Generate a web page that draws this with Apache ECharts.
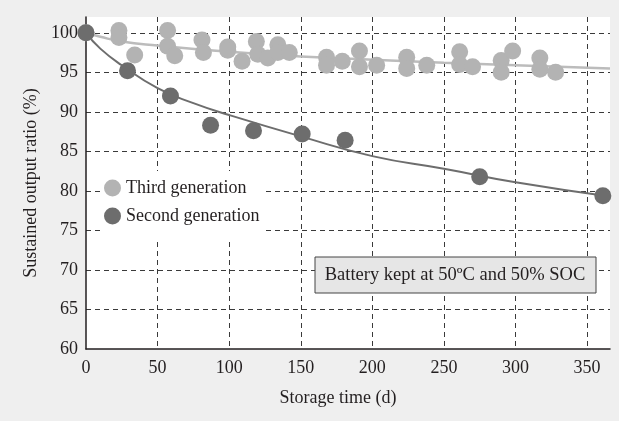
<!DOCTYPE html>
<html>
<head>
<meta charset="utf-8">
<script src="https://cdn.jsdelivr.net/npm/echarts@6/dist/echarts.min.js"></script>
<style>
  html, body { margin: 0; padding: 0; background: #efefef; }
  #chart { width: 619px; height: 421px; }
</style>
</head>
<body>
<div id="chart"></div>
<script>
// measured points (storage days, output %)
var thirdGen = [
  [0, 100], [23, 100.3], [23, 99.4], [34, 97.2],
  [57, 100.3], [57, 98.3], [62, 97.1],
  [81, 99.1], [82, 97.5], [99, 98.2], [99, 97.8], [109, 96.4],
  [119, 98.9], [120, 97.3], [127, 96.8], [134, 98.5], [134, 97.5], [142, 97.5],
  [168, 96.9], [168, 95.9], [179, 96.4], [191, 97.7], [191, 95.7], [203, 95.9],
  [224, 96.9], [224, 95.5], [238, 95.9], [261, 97.6], [261, 96.0], [270, 95.7],
  [290, 96.5], [290, 95.0], [298, 97.7], [317, 96.8], [317, 95.4], [328, 95.0]
]
var secondGen = [
  [0, 100], [29, 95.2], [59, 92.0], [87, 88.3], [117, 87.6],
  [151, 87.2], [181, 86.4], [275, 81.8], [361, 79.4]
]
// trend curves
var thirdFit = [
  [0, 100], [10, 99.5], [25, 98.9], [50, 98.4], [100, 97.6], [150, 97.0],
  [200, 96.6], [250, 96.2], [300, 95.9], [366, 95.5]
]
var secondFit = [
  [0, 100], [10, 98.0], [25, 95.9], [50, 93.0], [75, 91.1], [100, 89.6],
  [150, 86.9], [200, 84.4], [250, 82.8], [300, 81.1], [366, 79.3]
]
var legendNames = ['Third generation', 'Second generation']
var note = 'Battery kept at 50ºC and 50% SOC'

var font = "'Liberation Serif', 'Times New Roman', serif"
var ink = '#231f20'
var light = '#b3b3b3'
var dark = '#6d6d6d'

var chart = echarts.init(document.getElementById('chart'))
chart.setOption({
  backgroundColor: '#efefef',
  animation: false,
  textStyle: { fontFamily: font },
  grid: {
    left: 86, right: 9, top: 17, bottom: 72,
    show: true, backgroundColor: '#fff', borderWidth: 0
  },
  legend: {
    data: legendNames,
    orient: 'vertical',
    left: 100, top: 171,
    padding: [8, 6, 17, 4],
    backgroundColor: '#fff',
    icon: 'circle',
    itemWidth: 17, itemHeight: 17,
    itemGap: 10,
    textStyle: { fontFamily: font, fontSize: 18, color: ink }
  },
  xAxis: {
    type: 'value',
    min: 0, max: 366, interval: 50,
    name: 'Storage time (d)',
    nameLocation: 'middle',
    nameGap: 40,
    nameTextStyle: { fontFamily: font, fontSize: 18, color: ink, padding: [0, 20, 0, 0] },
    axisLine: { lineStyle: { color: ink, width: 1.5 } },
    axisTick: { show: false },
    axisLabel: { fontFamily: font, fontSize: 18, color: ink, margin: 10, showMaxLabel: false },
    splitLine: {
      show: true, showMinLine: false, showMaxLine: false,
      lineStyle: { color: '#3a3a3a', type: [5, 4], width: 1 }
    }
  },
  yAxis: {
    type: 'value',
    min: 60, max: 102, interval: 5,
    name: 'Sustained output ratio (%)',
    nameLocation: 'middle',
    nameGap: 38,
    nameTextStyle: { fontFamily: font, fontSize: 18, color: ink },
    axisLine: { show: true, lineStyle: { color: ink, width: 1.5 } },
    axisTick: { show: false },
    axisLabel: { fontFamily: font, fontSize: 18, color: ink, margin: 8, showMaxLabel: false },
    splitLine: {
      show: true, showMinLine: false, showMaxLine: false,
      lineStyle: { color: '#3a3a3a', type: [5, 4], width: 1 }
    }
  },
  series: [
    {
      name: 'third-fit', type: 'line', data: thirdFit, smooth: true,
      showSymbol: false, symbol: 'none', z: 2,
      lineStyle: { color: '#bcbcbc', width: 2.5 }
    },
    {
      name: 'second-fit', type: 'line', data: secondFit, smooth: true,
      showSymbol: false, symbol: 'none', z: 2,
      lineStyle: { color: dark, width: 2 }
    },
    {
      name: legendNames[0], type: 'scatter', data: thirdGen, z: 3,
      symbolSize: 17, itemStyle: { color: light, opacity: 1 }
    },
    {
      name: legendNames[1], type: 'scatter', data: secondGen, z: 4,
      symbolSize: 17, itemStyle: { color: dark, opacity: 1 }
    }
  ],
  graphic: [
    {
      type: 'rect', z: 100,
      shape: { x: 315, y: 257, width: 281, height: 36 },
      style: { fill: '#e6e6e6', stroke: '#444', lineWidth: 1 }
    },
    {
      type: 'text', z: 101,
      x: 455, y: 275,
      style: {
        text: note, fontFamily: font, fontSize: 18.5, fill: ink,
        align: 'center', verticalAlign: 'middle'
      }
    }
  ]
})
</script>
</body>
</html>
